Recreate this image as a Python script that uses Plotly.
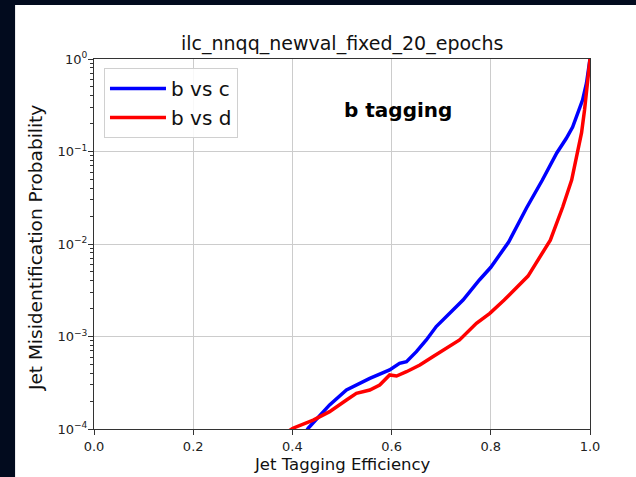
import plotly.graph_objects as go

# ---- data ----
eff_bc = [0.425, 0.432, 0.475, 0.509, 0.556, 0.596, 0.616, 0.630, 0.650, 0.670, 0.690, 0.717,
          0.744, 0.777, 0.800, 0.836, 0.872, 0.904, 0.933, 0.952, 0.965, 0.985, 0.993, 1.0]
mis_bc = [9.0e-5, 1.02e-4, 1.82e-4, 2.64e-4, 3.53e-4, 4.35e-4, 5.13e-4, 5.34e-4, 6.86e-4, 9.17e-4,
          1.28e-3, 1.78e-3, 2.48e-3, 4.08e-3, 5.6e-3, 1.05e-2, 2.45e-2, 4.92e-2, 9.64e-2, 1.38e-1,
          1.84e-1, 3.6e-1, 5.5e-1, 1.0]

eff_bd = [0.39, 0.401, 0.442, 0.475, 0.509, 0.529, 0.556, 0.576, 0.596, 0.610, 0.630, 0.657, 0.683,
          0.710, 0.737, 0.771, 0.798, 0.827, 0.875, 0.920, 0.945, 0.963, 0.975, 0.983, 0.989,
          0.997, 1.0]
mis_bd = [9.3e-5, 1.02e-4, 1.25e-4, 1.54e-4, 2.06e-4, 2.43e-4, 2.64e-4, 2.99e-4, 3.84e-4, 3.74e-4,
          4.16e-4, 4.92e-4, 6.05e-4, 7.45e-4, 9.17e-4, 1.39e-3, 1.78e-3, 2.48e-3, 4.5e-3, 1.10e-2,
          2.51e-2, 4.9e-2, 9.6e-2, 1.6e-1, 2.81e-1, 8.2e-1, 1.0]

x_ticks = [0.0, 0.2, 0.4, 0.6, 0.8, 1.0]
x_tick_labels = ["0.0", "0.2", "0.4", "0.6", "0.8", "1.0"]
y_ticks = [1e-4, 1e-3, 1e-2, 1e-1, 1.0]
y_tick_labels = ["10<sup>−4</sup>", "10<sup>−3</sup>", "10<sup>−2</sup>", "10<sup>−1</sup>", "10<sup>0</sup>"]
y_minor = [m * 10.0 ** k for k in range(-4, 0) for m in range(2, 10)]

title_text = "ilc_nnqq_newval_fixed_20_epochs"
x_title = "Jet Tagging Efficiency"
y_title = "Jet Misidentification Probability"
note_text = "<b>b tagging</b>"

# ---- layout geometry (pixels) ----
W, H = 636, 477
L, R, T, B = 94, 590.5, 59, 429
pw, ph = R - L, B - T

def px(x):
    return (x - L) / pw

def py(y):
    return (B - y) / ph

FONT = "DejaVu Sans"
AX = "#333"

# all y tick positions on the main axis (labels only on decades)
y_all = sorted(y_ticks + y_minor)
y_all_text = [y_tick_labels[y_ticks.index(v)] if v in y_ticks else "" for v in y_all]

fig = go.Figure()
fig.add_trace(go.Scatter(x=eff_bc, y=mis_bc, mode="lines", name="b vs c",
                         line=dict(color="#0000ff", width=3.5)))
fig.add_trace(go.Scatter(x=eff_bd, y=mis_bd, mode="lines", name="b vs d",
                         line=dict(color="#ff0000", width=3.5)))
# trace on the overlay axis that carries the decade ticks and grid
fig.add_trace(go.Scatter(x=eff_bc, y=mis_bc, yaxis="y2", mode="lines", showlegend=False,
                         hoverinfo="skip", line=dict(color="rgba(0,0,0,0)", width=0)))

fig.update_xaxes(range=[0, 1], tickmode="array", tickvals=x_ticks, ticktext=x_tick_labels,
                 showline=True, linecolor=AX, linewidth=1, mirror=True,
                 ticks="outside", ticklen=5, tickwidth=1, tickcolor=AX,
                 showgrid=True, gridcolor="#cccccc", gridwidth=1, zeroline=False,
                 tickfont=dict(family=FONT, size=13, color="#222"))
fig.update_yaxes(type="log", range=[-4, 0], tickmode="array", tickvals=y_all,
                 ticktext=y_all_text, showline=True, linecolor=AX, linewidth=1, mirror=True,
                 ticks="outside", ticklen=3, tickwidth=1, tickcolor=AX,
                 showgrid=False, zeroline=False,
                 tickfont=dict(family=FONT, size=13, color="#222"))

fig.update_layout(
    width=W, height=H,
    margin=dict(l=L, r=W - R, t=T, b=H - B, pad=0),
    paper_bgcolor="#020b1e",
    plot_bgcolor="white",
    showlegend=True,
    yaxis2=dict(type="log", range=[-4, 0], overlaying="y", anchor="x", side="left",
                tickmode="array", tickvals=y_ticks, ticks="outside", ticklen=5,
                tickwidth=1, tickcolor=AX, showticklabels=False, showgrid=True,
                gridcolor="#cccccc", gridwidth=1, showline=False, zeroline=False),
    legend=dict(x=px(104), y=py(68), xanchor="left", yanchor="top",
                font=dict(family=FONT, size=20, color="#111"), itemwidth=56,
                bgcolor="rgba(255,255,255,0.85)", bordercolor="#d0d0d0", borderwidth=1),
    shapes=[dict(type="rect", xref="paper", yref="paper", layer="below",
                 x0=px(15), x1=px(W + 5), y0=py(H + 5), y1=py(5),
                 fillcolor="white", line=dict(width=0))],
    annotations=[
        dict(text=title_text, xref="paper", yref="paper", x=0.5, y=py(43),
             xanchor="center", yanchor="middle", showarrow=False,
             font=dict(family=FONT, size=19, color="#111")),
        dict(text=x_title, xref="paper", yref="paper", x=0.5, y=py(465),
             xanchor="center", yanchor="middle", showarrow=False,
             font=dict(family=FONT, size=16.5, color="#111")),
        dict(text=y_title, xref="paper", yref="paper", x=px(35), y=py(248), textangle=-90,
             xanchor="center", yanchor="middle", showarrow=False,
             font=dict(family=FONT, size=18.5, color="#111")),
        dict(text=note_text, xref="paper", yref="paper", x=px(398.5), y=py(110),
             xanchor="center", yanchor="middle", showarrow=False,
             font=dict(family=FONT, size=20, color="#000")),
    ],
)

fig.write_html("out.html")
